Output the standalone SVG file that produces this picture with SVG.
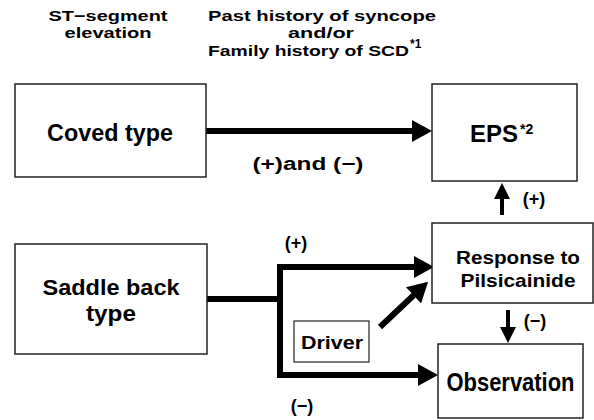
<svg xmlns="http://www.w3.org/2000/svg" width="594" height="420" viewBox="0 0 594 420">
<defs>
<style>
.box{fill:#fff;stroke:#222;stroke-width:1.5}
.thin{fill:#fff;stroke:#222;stroke-width:1.2}
.t{font-family:"Liberation Sans",Arial,sans-serif;font-weight:bold;fill:#000;text-anchor:middle}
.big{font-size:24px}
.mid{font-size:19px}
.lab{font-size:18px}
.hd{font-size:15px}
.sup{font-size:12px;text-anchor:start}
.c{stroke:#000;stroke-width:6;fill:none}
.c2{stroke:#000;stroke-width:4;fill:none}
</style>
<marker id="ah" markerUnits="userSpaceOnUse" markerWidth="20" markerHeight="22" refX="2" refY="11" orient="auto">
<path d="M0,0 L20,11 L0,22 z" fill="#000"/>
</marker>
<marker id="ah2" markerUnits="userSpaceOnUse" markerWidth="16" markerHeight="16" refX="2" refY="8" orient="auto">
<path d="M0,0 L16,8 L0,16 z" fill="#000"/>
</marker>
</defs>
<g id="headers">
<text class="t hd" x="108" y="21" textLength="119" lengthAdjust="spacingAndGlyphs">ST−segment</text>
<text class="t hd" x="108" y="38" textLength="87" lengthAdjust="spacingAndGlyphs">elevation</text>
<text class="t hd" x="322" y="21" textLength="228" lengthAdjust="spacingAndGlyphs">Past history of syncope</text>
<text class="t hd" x="321" y="38" textLength="66" lengthAdjust="spacingAndGlyphs">and/or</text>
<text class="t hd" x="308.5" y="56" textLength="201" lengthAdjust="spacingAndGlyphs">Family history of SCD</text>
<text class="t sup" x="410" y="48">*1</text>
</g>
<g id="connectors">
<line class="c" x1="206" y1="131" x2="414" y2="131" marker-end="url(#ah)"/>
<polyline class="c" points="207,299 280,299"/>
<polyline class="c" points="415,267 280,267 280,375 420,375" />
<line class="c" x1="415" y1="267" x2="416" y2="267" marker-end="url(#ah)"/>
<line class="c" x1="419" y1="375" x2="420" y2="375" marker-end="url(#ah)"/>
<line class="c" x1="380" y1="327" x2="415" y2="294" marker-end="url(#ah)"/>
<line class="c2" x1="502" y1="215" x2="502" y2="197" marker-end="url(#ah2)"/>
<line class="c2" x1="508" y1="310" x2="508" y2="329" marker-end="url(#ah2)"/>
<text class="t lab" x="308" y="170" textLength="111" lengthAdjust="spacingAndGlyphs">(+)and (−)</text>
<text class="t lab" x="534" y="205">(+)</text>
<text class="t lab" x="296" y="249">(+)</text>
<text class="t lab" x="535" y="327">(−)</text>
<text class="t lab" x="302" y="412">(−)</text>
</g>
<g id="coved">
<rect class="box" x="15" y="84" width="191" height="93"/>
<text class="t big" x="110" y="141" textLength="126" lengthAdjust="spacingAndGlyphs">Coved type</text>
</g>
<g id="eps">
<rect class="box" x="432" y="84" width="145" height="97"/>
<text class="t big" x="494" y="142">EPS</text>
<text class="t sup" x="520" y="134" style="font-size:14px">*2</text>
</g>
<g id="saddle">
<rect class="box" x="15" y="244" width="192" height="110"/>
<text class="t big" x="111" y="295" style="font-size:22px" textLength="137" lengthAdjust="spacingAndGlyphs">Saddle back</text>
<text class="t big" x="111" y="321" style="font-size:22px" textLength="50" lengthAdjust="spacingAndGlyphs">type</text>
</g>
<g id="response">
<rect class="box" x="432" y="223" width="161" height="80"/>
<text class="t mid" x="518" y="264" textLength="124" lengthAdjust="spacingAndGlyphs">Response to</text>
<text class="t mid" x="518" y="287" textLength="115" lengthAdjust="spacingAndGlyphs">Pilsicainide</text>
</g>
<g id="observation">
<rect class="box" x="438" y="344" width="145" height="74"/>
<text class="t big" x="510.5" y="391" style="font-size:25px" textLength="128" lengthAdjust="spacingAndGlyphs">Observation</text>
</g>
<g id="driver">
<rect class="thin" x="294" y="321" width="75" height="41"/>
<text class="t mid" x="332" y="349" textLength="62" lengthAdjust="spacingAndGlyphs">Driver</text>
</g>
</svg>
